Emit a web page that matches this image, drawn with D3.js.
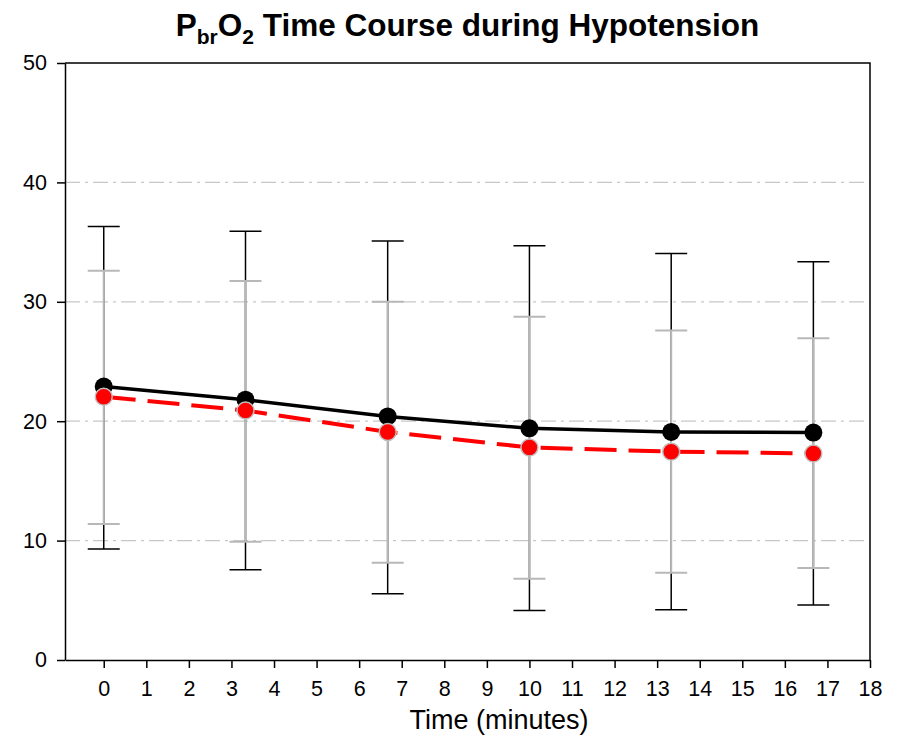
<!DOCTYPE html>
<html lang="en">
<head>
<meta charset="UTF-8">
<title>PbrO2 Time Course</title>
<script src="https://d3js.org/d3.v7.min.js"></script>
<style>
  body {margin: 0; background: #fff;}
  svg {display: block; font-family: "Liberation Sans", Arial, sans-serif;}
</style>
</head>
<body>
<svg id="chart" width="899" height="740"></svg>
<script>
// data
let times = [0, 3.33, 6.67, 10, 13.33, 16.67];
let blackMean = [22.9, 21.8, 20.4, 19.4, 19.1, 19.05];
let blackUpper = [36.3, 35.9, 35.1, 34.7, 34.05, 33.35];
let blackLower = [9.3, 7.55, 5.55, 4.15, 4.2, 4.6];
let redMean = [22.05, 20.9, 19.1, 17.8, 17.45, 17.3];
let redUpper = [32.6, 31.75, 30.0, 28.75, 27.6, 26.95];
let redLower = [11.4, 9.9, 8.15, 6.8, 7.3, 7.7];
let xTicks = d3.range(0, 19);
let yTicks = [0, 10, 20, 30, 40, 50];
let gridValues = [10, 20, 30, 40];

let svg = d3.select("#chart");
let mLeft = 65, mRight = 870, mTop = 63, mBottom = 660;

let x = d3.scaleLinear().domain([-0.91, 18]).range([mLeft, mRight]);
let y = d3.scaleLinear().domain([0, 50]).range([mBottom, mTop]);

// grid lines
svg.append("g").selectAll("line")
  .data(gridValues).join("line")
  .attr("x1", mLeft).attr("x2", mRight)
  .attr("y1", d => y(d)).attr("y2", d => y(d))
  .attr("stroke", "#c8c8c8").attr("stroke-width", 1.3)
  .attr("stroke-dasharray", "15,5,3,5");

// axes
let xAxis = svg.append("g")
  .attr("transform", `translate(0,${mBottom})`)
  .call(d3.axisBottom(x).tickValues(xTicks).tickSize(8).tickPadding(13).tickSizeOuter(0));
let yAxis = svg.append("g")
  .attr("transform", `translate(${mLeft},0)`)
  .call(d3.axisLeft(y).tickValues(yTicks).tickSize(8).tickPadding(10).tickSizeOuter(0));
[xAxis, yAxis].forEach(a => {
  a.select(".domain").attr("stroke", "#000").attr("stroke-width", 1.5);
  a.selectAll(".tick line").attr("stroke", "#000").attr("stroke-width", 1.5);
  a.selectAll(".tick text").attr("fill", "#000")
    .style("font-size", "21.5px").style("font-family", "Liberation Sans, Arial, sans-serif");
});

// frame top and right
svg.append("path")
  .attr("d", `M${mLeft},${mTop}H${mRight}V${mBottom}`)
  .attr("fill", "none").attr("stroke", "#000").attr("stroke-width", 1.5);

// error bars
function errorBars(upper, lower, color, width) {
  let g = svg.append("g").attr("stroke", color).attr("stroke-width", width);
  times.forEach((t, i) => {
    g.append("line").attr("x1", x(t)).attr("x2", x(t))
      .attr("y1", y(upper[i])).attr("y2", y(lower[i]));
    [upper[i], lower[i]].forEach(v => {
      g.append("line").attr("x1", x(t) - 16).attr("x2", x(t) + 16)
        .attr("y1", y(v)).attr("y2", y(v));
    });
  });
}
errorBars(blackUpper, blackLower, "#000", 1.5);
errorBars(redUpper, redLower, "#b8b8b8", 2);

let line = d3.line().x(d => x(d[0])).y(d => y(d[1]));

// black series
svg.append("path")
  .datum(d3.zip(times, blackMean))
  .attr("d", line)
  .attr("fill", "none").attr("stroke", "#000").attr("stroke-width", 3.5);
svg.append("g").selectAll("circle")
  .data(d3.zip(times, blackMean)).join("circle")
  .attr("cx", d => x(d[0])).attr("cy", d => y(d[1])).attr("r", 9)
  .attr("fill", "#000");

// red series
svg.append("path")
  .datum(d3.zip(times, redMean))
  .attr("d", line)
  .attr("fill", "none").attr("stroke", "#ff0000").attr("stroke-width", 4)
  .attr("stroke-dasharray", "32,12");
svg.append("g").selectAll("circle")
  .data(d3.zip(times, redMean)).join("circle")
  .attr("cx", d => x(d[0])).attr("cy", d => y(d[1])).attr("r", 8.5)
  .attr("fill", "#ff0000").attr("stroke", "#c0c0c0").attr("stroke-width", 1.5);

// title
let title = svg.append("text")
  .attr("x", (mLeft + mRight) / 2).attr("y", 36)
  .attr("text-anchor", "middle")
  .style("font-size", "31.5px").style("font-weight", "bold");
title.append("tspan").text("P");
title.append("tspan").attr("dy", 8).style("font-size", "21px").text("br");
title.append("tspan").attr("dy", -8).text("O");
title.append("tspan").attr("dy", 8).style("font-size", "21px").text("2");
title.append("tspan").attr("dy", -8).text(" Time Course during Hypotension");

// x axis label
svg.append("text")
  .attr("x", 499).attr("y", 729)
  .attr("text-anchor", "middle")
  .style("font-size", "27px")
  .text("Time (minutes)");
</script>
</body>
</html>
